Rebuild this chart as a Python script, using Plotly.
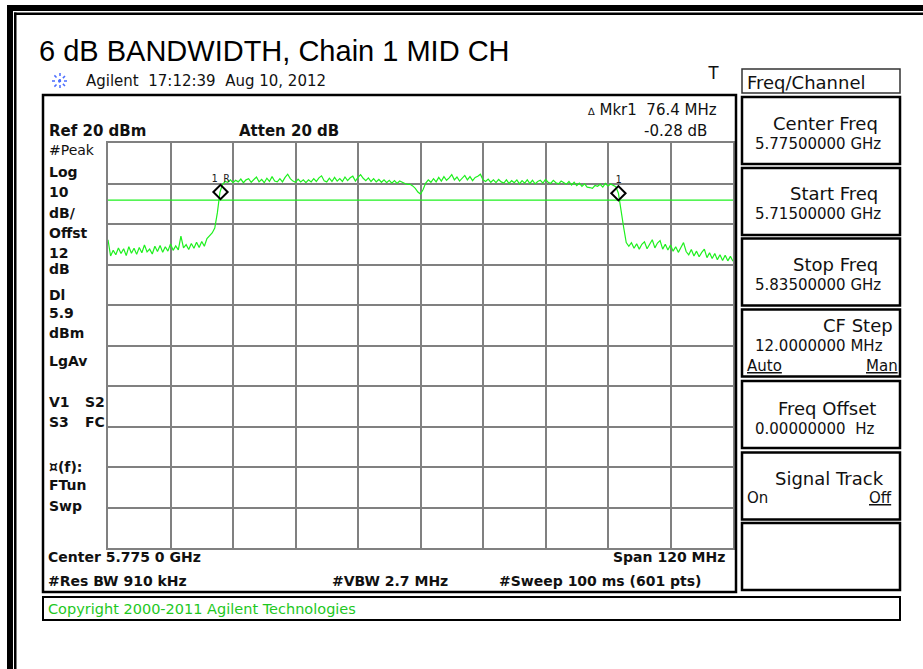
import numpy as np
import plotly.graph_objects as go

# sweep settings (from the analyzer screen)
start_ghz = 5.715
stop_ghz = 5.835
ref_level = 20
db_per_div = 10
display_line = 5.9

# trace levels in dBm, one reading every 0.5 MHz
lvl_left = [-3.9, -7.9, -6.5, -7.6, -5.9, -7.3, -6.1, -7.8, -5.6, -7.2,
            -6.0, -7.5, -5.8, -7.1, -5.2, -6.9, -6.2, -7.4, -5.5, -6.8,
            -5.3, -7.0, -5.6, -6.7, -4.9, -6.5, -5.4, -6.4, -3.0, -5.9,
            -5.1, -6.3, -4.8, -6.0, -4.5, -5.8, -4.3, -5.5, -3.6, -3.0]
lvl_rise = [-2.2, -1.0, 2.8, 7.9, 9.8, 10.5]
lvl_band = [10.3, 10.9, 10.2, 10.8, 10.4, 11.1, 10.2, 10.9, 11.2, 10.3,
            10.9, 11.6, 10.4, 11.0, 10.2, 11.3, 10.5, 11.7, 10.6, 10.4,
            11.2, 10.4, 11.5, 12.3, 11.2, 10.6, 10.3, 11.1, 10.4, 10.9,
            10.2, 10.9, 10.4, 11.2, 10.5, 11.4, 11.9, 10.7, 10.4, 11.3,
            10.5, 11.5, 10.6, 11.2, 10.5, 11.6, 10.7, 11.4, 11.8, 10.6,
            11.5, 12.2, 11.3, 10.7, 11.4, 10.5, 11.2, 10.4, 11.0, 10.3,
            10.9, 10.2, 10.8, 10.1, 10.7, 10.0, 10.6, 10.2, 10.0, 9.8,
            9.8, 9.4, 8.8, 7.9, 7.4, 8.5, 10.1, 10.9, 10.3, 11.2,
            10.4, 11.5, 10.6, 11.7, 10.8, 11.4, 12.2, 10.9, 11.6, 10.6,
            11.4, 12.0, 10.9, 11.7, 10.7, 11.5, 11.8, 12.3, 10.9, 10.5,
            11.1, 10.3, 10.9, 10.2, 11.0, 10.4, 10.1, 10.9, 10.0, 10.7,
            10.2, 10.9, 9.9, 10.7, 10.1, 10.9, 10.0, 10.8, 9.9, 10.5,
            10.8, 10.1, 11.0, 10.3, 10.0, 10.8, 10.2, 9.9, 10.6, 10.1,
            9.8, 10.5, 9.6, 10.3, 9.5, 10.1, 9.3, 9.9, 9.1, 9.0,
            8.8, 9.5, 9.3, 9.8, 9.1, 10.0, 9.4, 9.9, 9.5, 9.2]
lvl_fall = [7.6, 3.0, -0.8, -4.6, -5.5]
lvl_right = [-4.6, -6.0, -4.9, -6.2, -5.0, -4.4, -6.1, -5.0, -3.9, -5.9,
             -4.7, -4.1, -6.2, -5.0, -6.4, -5.2, -6.7, -5.6, -7.0, -5.8,
             -4.6, -6.8, -7.6, -6.3, -7.9, -6.7, -8.1, -7.0, -6.2, -8.3,
             -7.1, -8.5, -7.3, -8.8, -7.6, -9.0, -7.7, -9.1, -8.0, -9.2]

# markers
mkr_freq = [5.7366, 5.8130]
mkr_level = [7.9, 7.6]
mkr_text = ['1 R', '1']

# soft keys: (label, value)
softkeys = [('Center Freq', '5.77500000 GHz'),
            ('Start Freq', '5.71500000 GHz'),
            ('Stop Freq', '5.83500000 GHz'),
            ('CF Step', '12.0000000 MHz'),
            ('Freq Offset', '0.00000000  Hz'),
            ('Signal Track', ''),
            ('', '')]

left_labels = ['#Peak', 'Log', '10', 'dB/', 'Offst', '12', 'dB', 'Dl', '5.9', 'dBm',
               'LgAv', 'V1', 'S3', '¤(f):', 'FTun', 'Swp']

levels = lvl_left + lvl_rise + lvl_band + lvl_fall + lvl_right
freqs = np.linspace(start_ghz, stop_ghz, len(levels))

# page geometry in pixels
W, H = 923, 669
GL, GR, GT, GB = 108, 733, 143, 548
INSTR = 'DejaVu Sans, Verdana, sans-serif'


def px(x):
    return (x - GL) / (GR - GL)


def py(y):
    return (GB - y) / (GB - GT)


fig = go.Figure()

fig.add_trace(go.Scatter(x=[start_ghz, stop_ghz], y=[display_line, display_line],
                         mode='lines', line=dict(color='#1ef01e', width=1.3),
                         hoverinfo='skip'))
fig.add_trace(go.Scatter(x=freqs, y=levels, mode='lines',
                         line=dict(color='#1ef01e', width=1.2)))
fig.add_trace(go.Scatter(x=mkr_freq, y=mkr_level, mode='markers+text',
                         text=mkr_text, textposition='top center',
                         textfont=dict(family='DejaVu Sans Mono', size=10, color='#222222'),
                         marker=dict(symbol='diamond-open', size=11, color='black',
                                     line=dict(width=2, color='black'))))

shapes = []


def rect(x0, y0, x1, y1, width=2.5, color='black', fill=None):
    s = dict(type='rect', xref='paper', yref='paper',
             x0=px(x0), x1=px(x1), y0=py(y0), y1=py(y1),
             line=dict(color=color, width=width))
    if fill:
        s['fillcolor'] = fill
        s['line'] = dict(width=0)
    shapes.append(s)


# outer double frame (top and left)
rect(7, 5, W, 11, fill='black')
rect(14, 12.5, W, 15, fill='black')
rect(7, 5, 13, H, fill='black')
rect(14, 12.5, 16.5, H, fill='black')

# screen box and copyright bar
rect(43, 95, 736, 592, width=2.5)
rect(43, 597, 900, 620, width=2)

# soft key panel
rect(742, 69, 900, 93, width=1.5, color='#333333')
key_tops = [97, 168, 238.5, 309.5, 381, 452.5, 523]
for top in key_tops:
    rect(742, top, 900, top + 67, width=2.5)

# agilent logo (little spark)
cx, cy, r = 60, 81, 8
for dx, dy in [(1, 0), (0, 1), (0.7, 0.7), (0.7, -0.7)]:
    shapes.append(dict(type='line', xref='paper', yref='paper',
                       x0=px(cx - r * dx), x1=px(cx + r * dx),
                       y0=py(cy - r * dy), y1=py(cy + r * dy),
                       line=dict(color='#4a6cff', width=1.5, dash='dot')))

annotations = []


def label(text, x, y, size=14, bold=False, anchor='left', family=INSTR, color='#111111'):
    if bold:
        text = '<b>' + text + '</b>'
    annotations.append(dict(text=text, xref='paper', yref='paper', x=px(x), y=py(y),
                            xanchor=anchor, yanchor='middle', showarrow=False,
                            font=dict(family=family, size=size, color=color)))


label('6 dB BANDWIDTH, Chain 1 MID CH', 37, 51, size=29, family='Arial, Liberation Sans', color='black')
label('Agilent  17:12:39  Aug 10, 2012', 84, 81, size=15)
label('T', 706, 73, size=18, family='Arial, Liberation Sans')

# header of the screen
label('Ref 20 dBm', 47, 131, size=15, bold=True)
label('Atten 20 dB', 237, 131, size=15, bold=True)
label('<span style="font-size:10px">∆</span> Mkr1  76.4 MHz', 719, 110, size=15, anchor='right')
label('-0.28 dB', 709, 131, size=15, anchor='right')

# left status column
left_y = [150, 171.7, 191.7, 212.7, 233.3, 252.5, 268.5, 295, 313.3, 332.7,
          360.7, 401.7, 421.7, 466.7, 485, 506]
for txt, yy in zip(left_labels, left_y):
    label(txt, 47, yy, size=14, bold=(txt != '#Peak'))
label('S2', 107, 401.7, size=14, bold=True, anchor='right')
label('FC', 107, 421.7, size=14, bold=True, anchor='right')

# bottom of the screen
label('Center 5.775 0 GHz', 46, 557, size=14, bold=True)
label('Span 120 MHz', 727, 557, size=14, bold=True, anchor='right')
label('#Res BW 910 kHz', 46, 581, size=14, bold=True)
label('#VBW 2.7 MHz', 330, 581, size=14, bold=True)
label('#Sweep 100 ms (601 pts)', 497, 581, size=14, bold=True)
label('Copyright 2000-2011 Agilent Technologies', 46, 609, size=14.5, color='#1ec81e')

# soft key texts
label('Freq/Channel', 745, 82, size=18)
label_right = [880, 880, 880, 895, 878, 886, 880]
label_dy = [26, 25.5, 25.5, 15.5, 27, 26, 26]
for (name, value), top, xr, dy in zip(softkeys, key_tops, label_right, label_dy):
    if name:
        label(name, xr, top + dy, size=18, anchor='right')
    if value:
        label(value, 753, top + dy + 20.5, size=15)
label('<span style="text-decoration:underline">Auto</span>', 745, 366, size=15)
label('<span style="text-decoration:underline">Man</span>', 900, 366, size=15, anchor='right')
label('On', 745, 498, size=15)
label('<span style="text-decoration:underline">Off</span>', 894, 498, size=15, anchor='right')

fig.update_layout(
    width=W, height=H, autosize=False,
    margin=dict(l=GL, r=W - GR, t=GT, b=H - GB, pad=0),
    paper_bgcolor='white', plot_bgcolor='white',
    showlegend=False,
    shapes=shapes, annotations=annotations,
    xaxis=dict(range=[start_ghz, stop_ghz], tick0=start_ghz, dtick=(stop_ghz - start_ghz) / 10,
               showgrid=True, gridcolor='#808080', gridwidth=1.6,
               showline=True, mirror=True, linecolor='#808080', linewidth=2,
               showticklabels=False, ticks='', zeroline=False, fixedrange=True),
    yaxis=dict(range=[ref_level - 10 * db_per_div, ref_level], dtick=db_per_div,
               showgrid=True, gridcolor='#808080', gridwidth=1.6,
               showline=True, mirror=True, linecolor='#808080', linewidth=2,
               showticklabels=False, ticks='', zeroline=False, fixedrange=True),
)

# the page default margin would shift the figure; remove it
fig.write_html('out.html', config={'displayModeBar': False},
               post_script="document.body.style.margin='0';document.body.style.overflow='hidden';")
